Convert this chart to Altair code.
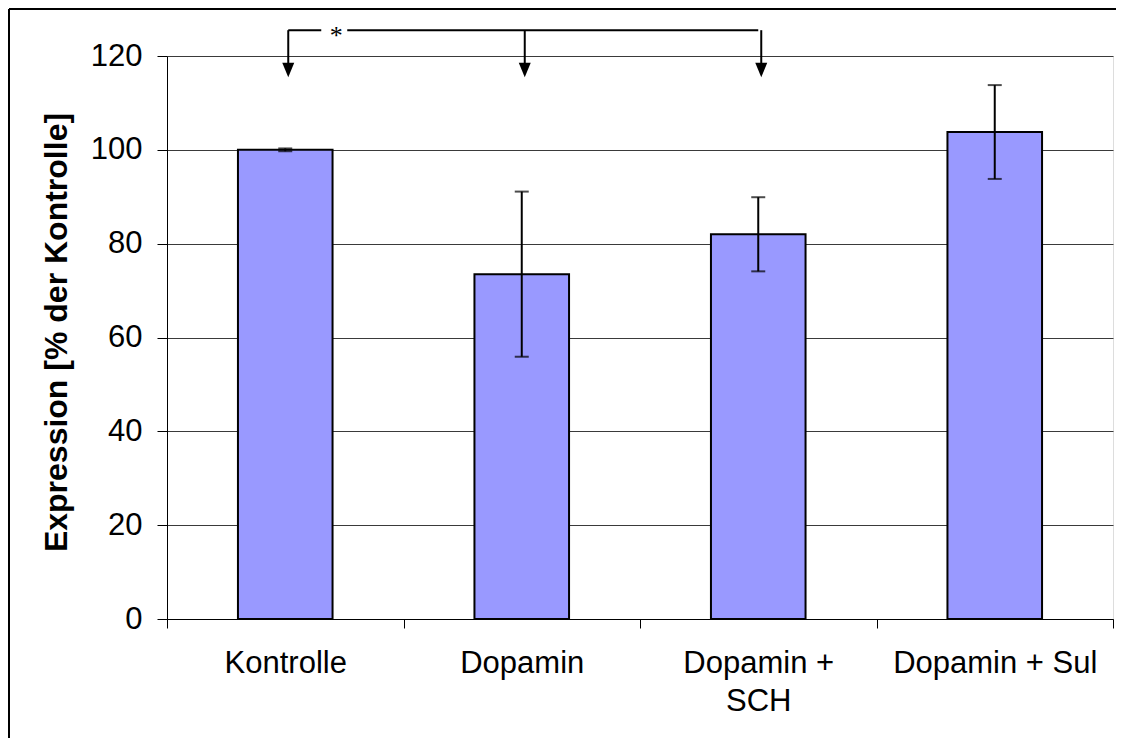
import altair as alt
import pandas as pd

# ---- data ----
categories = ["Kontrolle", "Dopamin", "Dopamin + SCH", "Dopamin + Sul"]
means = [100.0, 73.5, 82.0, 103.8]
errors = [0.3, 17.6, 7.9, 10.0]

y_ticks = [0, 20, 40, 60, 80, 100, 120]

# significance annotation (* between Kontrolle and the two Dopamin groups)
sig_groups = ["Kontrolle", "Dopamin", "Dopamin + SCH"]
sig_label = "*"
bracket_level = 125.5
arrow_base_level = 118.3
arrow_center_level = 117.0

df = pd.DataFrame({"cat": categories, "mean": means, "err": errors})
df["lo"] = df["mean"] - df["err"]
df["hi"] = df["mean"] + df["err"]

sig_df = pd.DataFrame({"cat": sig_groups, "top": bracket_level,
                       "base": arrow_base_level, "mid": arrow_center_level})
bracket_df = pd.DataFrame({"start": [sig_groups[0]], "end": [sig_groups[-1]],
                           "lvl": [bracket_level], "label": [sig_label]})
frame_df = pd.DataFrame({"a": [0]})

FONT = "Liberation Sans"
ydom = alt.Scale(domain=[0, 120], nice=False, zero=True)
xscale = alt.Scale(domain=categories, paddingInner=0, paddingOuter=0)

x_enc = alt.X(
    "cat:N",
    scale=xscale,
    axis=alt.Axis(
        title=None,
        labelAngle=0,
        tickBand="extent",
        tickSize=9,
        tickColor="black",
        domainColor="black",
        labelFont=FONT,
        labelFontSize=31,
        labelColor="black",
        labelPadding=20,
        labelLineHeight=38,
        labelBaseline="top",
        labelLimit=400,
        labelExpr="datum.value == 'Dopamin + SCH' ? ['Dopamin +', 'SCH'] : datum.value",
        grid=False,
    ),
)

bars = alt.Chart(df).mark_bar(
    width=alt.RelativeBandSize(0.4), color="#9999FF", stroke="black", strokeWidth=2
).encode(
    x=x_enc,
    y=alt.Y(
        "mean:Q",
        scale=ydom,
        axis=alt.Axis(
            values=y_ticks,
            title="Expression [% der Kontrolle]",
            titleFont=FONT,
            titleFontSize=32,
            titleFontWeight="bold",
            titleColor="black",
            titleX=-111,
            titleY=276,
            titleBaseline="middle",
            labelFont=FONT,
            labelFontSize=31,
            labelColor="black",
            labelPadding=15,
            tickSize=10,
            tickColor="black",
            domainColor="black",
            gridColor="#3a3a3a",
            gridWidth=1,
        ),
    ),
)

err_rule = alt.Chart(df).mark_rule(color="black", strokeWidth=2).encode(
    x=alt.X("cat:N", scale=xscale),
    y=alt.Y("lo:Q", scale=ydom),
    y2="hi:Q",
)
err_lo = alt.Chart(df).mark_tick(color="black", size=14, thickness=2).encode(
    x=alt.X("cat:N", scale=xscale), y=alt.Y("lo:Q", scale=ydom)
)
err_hi = alt.Chart(df).mark_tick(color="black", size=14, thickness=2).encode(
    x=alt.X("cat:N", scale=xscale), y=alt.Y("hi:Q", scale=ydom)
)

arrow_lines = alt.Chart(sig_df).mark_rule(color="black", strokeWidth=2, xOffset=3).encode(
    x=alt.X("cat:N", scale=xscale),
    y=alt.Y("top:Q", scale=ydom),
    y2="base:Q",
)
arrow_heads = alt.Chart(sig_df).mark_point(
    shape="M-1,-1.2L1,-1.2L0,1.2Z", filled=True, color="black", size=144, opacity=1, xOffset=3
).encode(
    x=alt.X("cat:N", scale=xscale),
    y=alt.Y("mid:Q", scale=ydom),
)
bracket = alt.Chart(bracket_df).mark_rule(color="black", strokeWidth=2, xOffset=3).encode(
    x=alt.X("start:N", scale=xscale),
    x2="end:N",
    y=alt.Y("lvl:Q", scale=ydom),
)
star_bg = alt.Chart(bracket_df).mark_square(
    color="white", size=26 * 26, opacity=1, xOffset=49
).encode(
    x=alt.X("start:N", scale=xscale),
    y=alt.Y("lvl:Q", scale=ydom),
)
star = alt.Chart(bracket_df).mark_text(
    font="Liberation Serif", fontSize=26, color="black", dx=51, dy=6, baseline="middle"
).encode(
    x=alt.X("start:N", scale=xscale),
    y=alt.Y("lvl:Q", scale=ydom),
    text="label:N",
)

frame_top = alt.Chart(frame_df).mark_rule(color="black", strokeWidth=2).encode(
    x=alt.value(-158), x2=alt.value(1300), y=alt.value(-47)
)
frame_left = alt.Chart(frame_df).mark_rule(color="black", strokeWidth=2).encode(
    x=alt.value(-158), y=alt.value(-47), y2=alt.value(900)
)

chart = alt.layer(
    frame_top, frame_left, bars, err_rule, err_lo, err_hi,
    arrow_lines, arrow_heads, bracket, star_bg, star
).properties(
    width=946,
    height=563,
    autosize="none",
    padding={"left": 159, "top": 48, "right": 3, "bottom": 119},
).configure_view(
    fill="#C0C0C0", stroke="#808080", strokeWidth=1.5
).configure(background="white")

chart.save("out.html", embed_options={"renderer": "svg", "actions": False})
